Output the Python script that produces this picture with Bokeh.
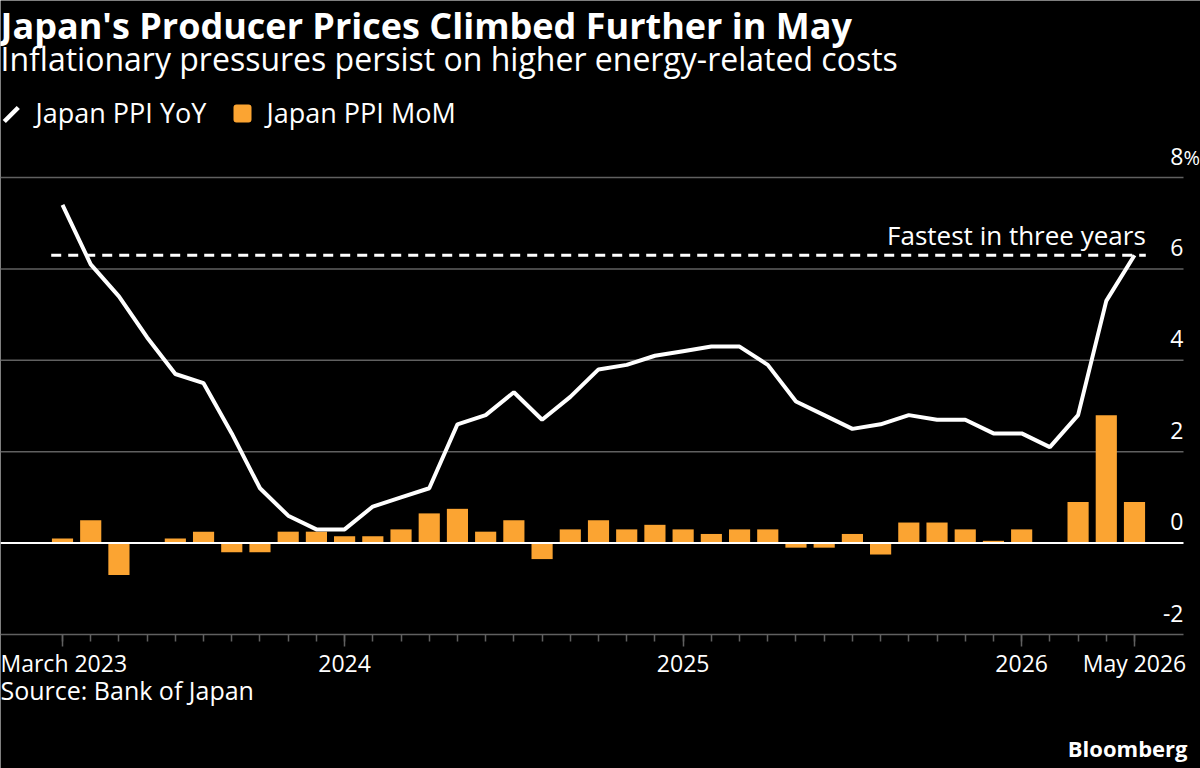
from bokeh.plotting import figure
from bokeh.models import (Range1d, FixedTicker, LinearAxis, LabelSet,
                          ColumnDataSource, PolyAnnotation, BoxAnnotation)
from bokeh.core.properties import value
from bokeh.embed import file_html
from bokeh.resources import INLINE

# ---------------- data (monthly, March 2023 .. May 2026) ----------------
months = ["2023-03", "2023-04", "2023-05", "2023-06", "2023-07", "2023-08",
          "2023-09", "2023-10", "2023-11", "2023-12",
          "2024-01", "2024-02", "2024-03", "2024-04", "2024-05", "2024-06",
          "2024-07", "2024-08", "2024-09", "2024-10", "2024-11", "2024-12",
          "2025-01", "2025-02", "2025-03", "2025-04", "2025-05", "2025-06",
          "2025-07", "2025-08", "2025-09", "2025-10", "2025-11", "2025-12",
          "2026-01", "2026-02", "2026-03", "2026-04", "2026-05"]
ppi_yoy = [7.4, 6.1, 5.4, 4.5, 3.7, 3.5, 2.4, 1.2, 0.6, 0.3,
           0.3, 0.8, 1.0, 1.2, 2.6, 2.8, 3.3, 2.7, 3.2, 3.8, 3.9, 4.1,
           4.2, 4.3, 4.3, 3.9, 3.1, 2.8, 2.5, 2.6, 2.8, 2.7, 2.7, 2.4,
           2.4, 2.1, 2.8, 5.3, 6.3]
ppi_mom = [0.1, 0.5, -0.7, 0.0, 0.1, 0.25, -0.2, -0.2, 0.25, 0.25,
           0.15, 0.15, 0.3, 0.65, 0.75, 0.25, 0.5, -0.35, 0.3, 0.5, 0.3, 0.4,
           0.3, 0.2, 0.3, 0.3, -0.1, -0.1, 0.2, -0.25, 0.45, 0.45, 0.3, 0.05,
           0.3, 0.0, 0.9, 2.8, 0.9]
x_tick_months = ["2023-03", "2024-01", "2025-01", "2026-01", "2026-05"]
x_tick_labels = ["March 2023", "2024", "2025", "2026", "May 2026"]
y_ticks = [-2, 0, 2, 4, 6, 8]
y_tick_labels = ["-2", "0", "2", "4", "6", "8"]

# ---------------- layout ----------------
W, H = 1200, 768
AX_Y = 634            # pixel row of the -2 baseline
GRID_R = 1183         # right end of gridlines
X0_PX, XN_PX, Y8_PX = 62, 1134, 177
FONT = "Open Sans"
ORANGE = "#FBA432"
GRID = "#606060"

xs = list(range(len(months)))
n = len(months) - 1
px_per_month = (XN_PX - X0_PX) / n
x_start = -X0_PX / px_per_month
x_end = n + (W - XN_PX) / px_per_month
x_grid_end = n + (GRID_R - XN_PX) / px_per_month
px_per_unit = (AX_Y - Y8_PX) / 10.0
y_start = -2 - (H - AX_Y) / px_per_unit
y_end = 8 + Y8_PX / px_per_unit

p = figure(width=W, height=H, x_range=Range1d(x_start, x_end),
           y_range=Range1d(y_start, y_end), output_backend="svg",
           toolbar_location=None, x_axis_location=None, y_axis_location=None,
           min_border_left=0, min_border_right=0,
           min_border_top=0, min_border_bottom=0,
           background_fill_color="black", border_fill_color="black")
p.outline_line_color = None
p.xgrid.visible = False
p.ygrid.visible = False

# gridlines (non-zero), ending at GRID_R
grid_y = [v for v in y_ticks if v != 0]
p.segment(x0=[x_start] * len(grid_y), x1=[x_grid_end] * len(grid_y),
          y0=grid_y, y1=grid_y, line_color=GRID, line_width=1.5)

src = ColumnDataSource(dict(x=xs, yoy=ppi_yoy, mom=ppi_mom, month=months))
p.vbar(x="x", top="mom", bottom=0, width=0.75, source=src,
       fill_color=ORANGE, line_color=None)
p.segment(x0=[x_start], x1=[x_grid_end], y0=[0], y1=[0],
          line_color="white", line_width=2)
p.line(x="x", y="yoy", source=src, line_color="white", line_width=4)

# dashed "fastest in three years" reference at latest value
p.line(x=[xs[0] - 0.4, xs[-1] + 0.4], y=[ppi_yoy[-1], ppi_yoy[-1]],
       line_color="white", line_width=3, line_dash="10 7")
p.add_layout(LabelSet(x="x", y="y", text="text",
                      source=ColumnDataSource(dict(x=[xs[-1] + 0.4], y=[ppi_yoy[-1]],
                                                   text=["Fastest in three years"])),
                      text_align="right", text_baseline="alphabetic", y_offset=10,
                      text_color="white", text_font=value(FONT), text_font_size="26px"))

# x axis fixed at the -2 baseline
tick_idx = [months.index(m) for m in x_tick_months]
ax = LinearAxis(fixed_location=y_ticks[0],
                ticker=FixedTicker(ticks=tick_idx, minor_ticks=xs))
ax.major_label_overrides = {i: t for i, t in zip(tick_idx, x_tick_labels)}
ax.axis_line_color = None
ax.major_tick_line_color = GRID
ax.major_tick_line_width = 1.5
ax.major_tick_in = 0
ax.major_tick_out = 12
ax.minor_tick_line_color = GRID
ax.minor_tick_line_width = 1.5
ax.minor_tick_in = 0
ax.minor_tick_out = 7
ax.major_label_standoff = 0
ax.major_label_text_color = "white"
ax.major_label_text_font = FONT
ax.major_label_text_font_size = "23px"
p.add_layout(ax, "below")

# y labels above gridlines at right
ysrc = ColumnDataSource(dict(y=y_ticks, text=y_tick_labels))
p.add_layout(LabelSet(x=GRID_R, x_units="screen", y="y", text="text", source=ysrc,
                      text_align="right", text_baseline="alphabetic", y_offset=13,
                      text_color="white", text_font=value(FONT), text_font_size="23px"))
p.add_layout(LabelSet(x=GRID_R, x_units="screen", y="y", text="text",
                      source=ColumnDataSource(dict(y=[y_ticks[-1]], text=["%"])),
                      text_align="left", text_baseline="alphabetic", y_offset=13,
                      text_color="white", text_font=value(FONT), text_font_size="20px"))

def screen_text(x, base, text, size, bold=False, align="left"):
    # screen y for annotations is measured upward from the frame bottom (= canvas bottom)
    s = ColumnDataSource(dict(x=[x], y=[H - base], text=[text]))
    return LabelSet(x="x", y="y", text="text", source=s,
                    x_units="screen", y_units="screen",
                    text_align=align, text_baseline="alphabetic", text_color="white",
                    text_font=value(FONT), text_font_size=size,
                    text_font_style="bold" if bold else "normal")

p.add_layout(screen_text(0, 38.5, "Japan's Producer Prices Climbed Further in May", "36px", True))
p.add_layout(screen_text(0, 70, "Inflationary pressures persist on higher energy-related costs", "32px"))
p.add_layout(screen_text(35, 122, "Japan PPI YoY", "27px"))
p.add_layout(screen_text(266, 122, "Japan PPI MoM", "27px"))
p.add_layout(screen_text(0, 699, "Source: Bank of Japan", "25px"))
p.add_layout(screen_text(1187, 756, "Bloomberg", "22px", True, "right"))

# legend icons
p.add_layout(PolyAnnotation(xs=[2.2, 5.4, 19.4, 16.2],
                            ys=[H - 119.4, H - 122.6, H - 108.6, H - 105.4],
                            xs_units="screen", ys_units="screen",
                            fill_color="white", fill_alpha=1, line_color=None))
p.add_layout(BoxAnnotation(left=233, right=251, top=H - 104, bottom=H - 122,
                           left_units="screen", right_units="screen",
                           top_units="screen", bottom_units="screen",
                           fill_color=ORANGE, fill_alpha=1, line_color=None,
                           border_radius=3))

open("out.html", "w").write(file_html(p, INLINE))
